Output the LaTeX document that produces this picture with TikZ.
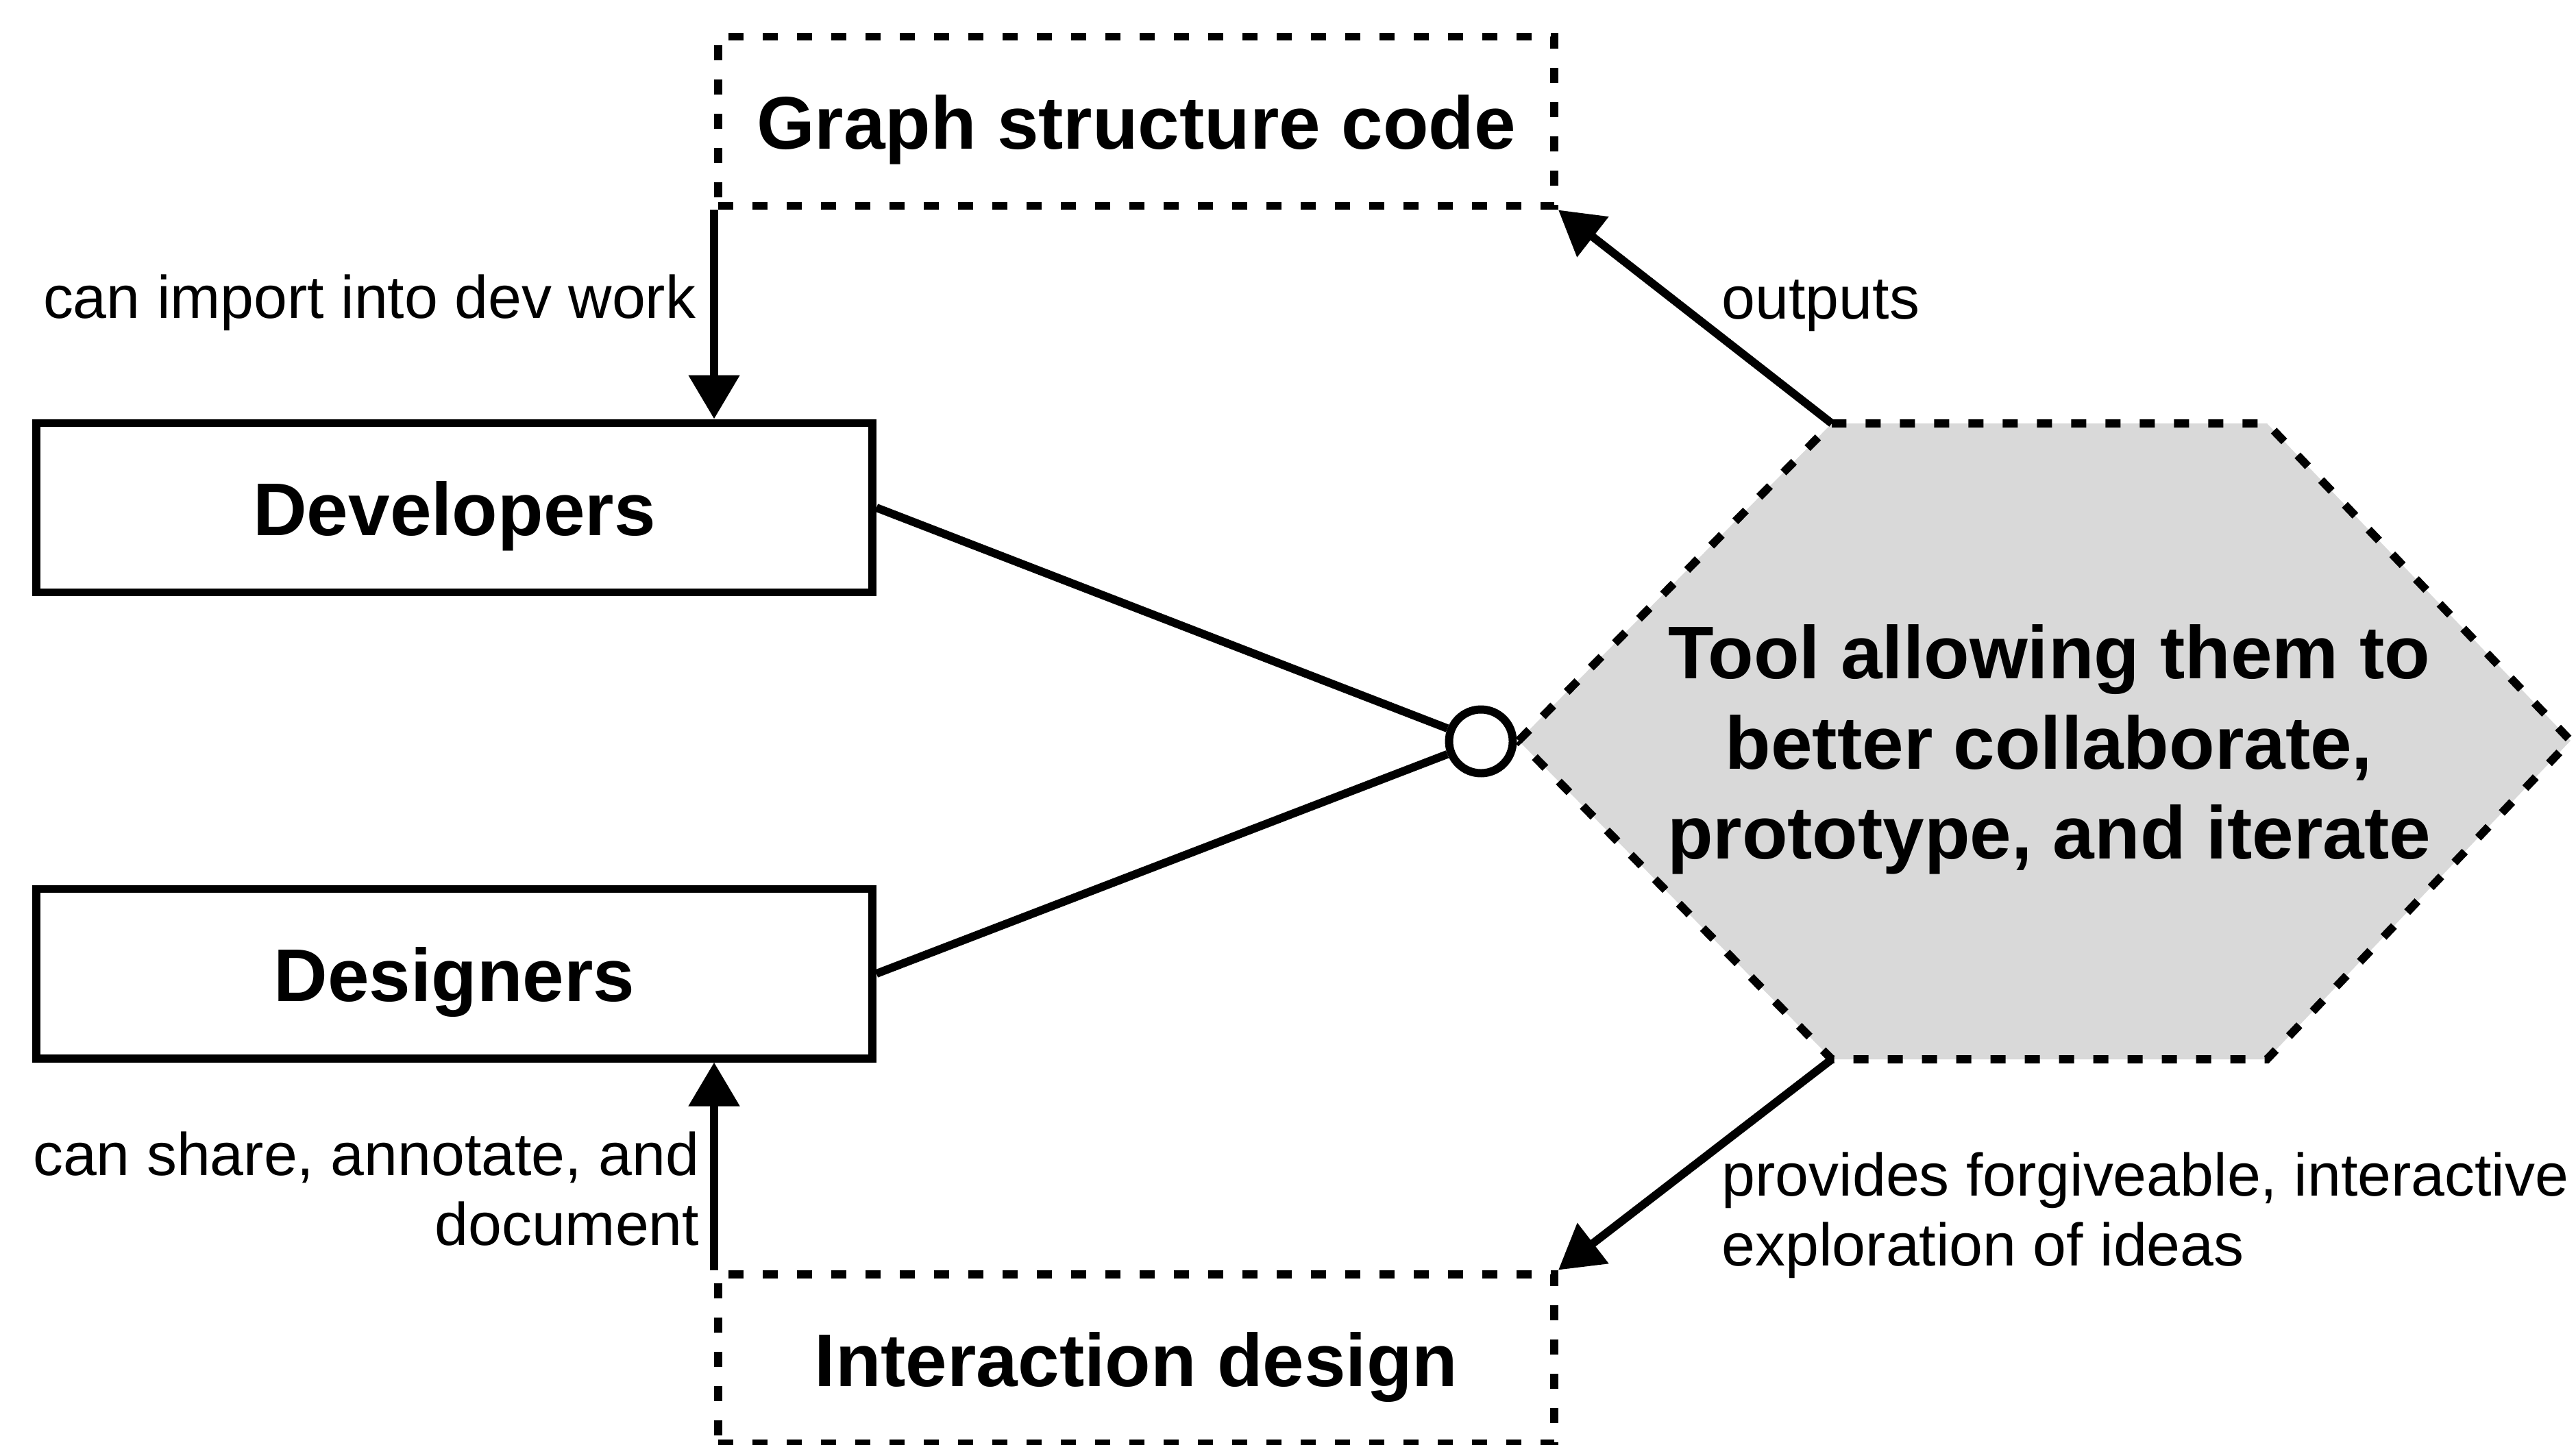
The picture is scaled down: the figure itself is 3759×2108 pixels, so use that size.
\documentclass[tikz,border=0pt]{standalone}
\usepackage{fontspec}
\setmainfont{Liberation Sans}
\usetikzlibrary{arrows.meta}

\definecolor{toolgray}{HTML}{D9D9D9}

\begin{document}
\begin{tikzpicture}[x=0.1mm, y=-0.1mm,
    box/.style={draw, line width=3.4pt, minimum width=12.2cm, minimum height=2.47cm,
        inner sep=0pt, text height=1.03cm, text depth=0.23cm,
        font=\fontsize{31}{37}\selectfont\bfseries},
    dashbox/.style={box, dash pattern=on 0.22cm off 0.28cm},
    note/.style={inner sep=0pt, font=\fontsize{25}{29}\selectfont},
    link/.style={line width=3.4pt},
    arrow/.style={link, -{Triangle[width=0.72cm, length=0.64cm]}}]

    \useasboundingbox (0,0) rectangle (3759,2108);

    % the two groups
    \node[box] (dev) at (663,741) {Developers};
    \node[box] (des) at (663,1421) {Designers};

    % what comes out of the tool
    \node[dashbox] (code) at (1658,177) {Graph structure code};
    \node[dashbox] (idesign) at (1658,1983) {Interaction design};

    % the tool itself
    \coordinate (hl) at (2216,1081);
    \coordinate (htl) at (2673,618);
    \coordinate (htr) at (3308,618);
    \coordinate (hr) at (3751,1081);
    \coordinate (hbr) at (3308,1546);
    \coordinate (hbl) at (2673,1546);
    \draw[fill=toolgray, line width=3.4pt, dash pattern=on 0.22cm off 0.28cm]
        (hl) -- (htl) -- (htr) -- (hr) -- (hbr) -- (hbl) -- cycle;
    \node[align=center, font=\fontsize{31}{37.5}\selectfont\bfseries] (tool) at (2990,1094)
        {Tool allowing them to\\better collaborate,\\prototype, and iterate};

    % joining point
    \node[circle, draw, fill=white, line width=3.4pt, minimum size=0.93cm, inner sep=0pt]
        (hub) at (2161,1082) {};
    \draw[link] (dev.east) -- (hub);
    \draw[link] (des.east) -- (hub);

    % arrows
    \draw[arrow] (code.south west) -- (code.south west |- dev.north);
    \draw[arrow] (idesign.north west) -- (idesign.north west |- des.south);
    \draw[arrow] (htl) -- (code.south east);
    \draw[arrow] (hbl) -- (idesign.north east);

    % labels
    \node[note, anchor=east] (imp) at (1016,442) {can import into dev work};
    \node[note, anchor=east, align=right] (share) at (1021,1735)
        {can share, annotate, and\\document};
    \node[note, anchor=west] (out) at (2512,446) {outputs};
    \node[note, anchor=west, align=left] (prov) at (2512,1774)
        {provides forgiveable, interactive\\exploration of ideas};
\end{tikzpicture}
\end{document}
